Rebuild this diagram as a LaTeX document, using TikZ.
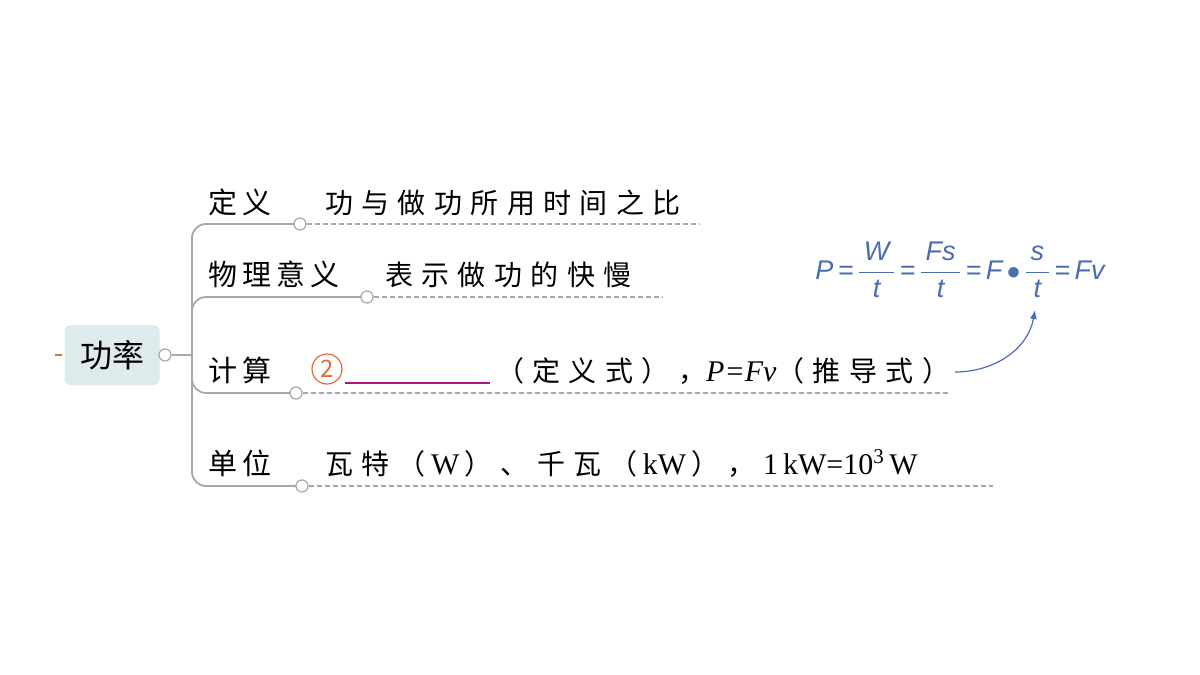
\documentclass[tikz,border=0pt]{standalone}
\usepackage{fix-cm}
\usepackage{amsmath}
\usepackage{fontspec}
\setmainfont{Noto Sans CJK SC}
\newfontfamily\lat{Liberation Serif}
\newfontfamily\fsans{Liberation Sans}
\usetikzlibrary{arrows.meta}
\definecolor{lgray}{HTML}{A8A8A8}
\definecolor{fblue}{HTML}{4A6DB0}
\definecolor{rootbg}{HTML}{DDEBEC}
\definecolor{orng}{HTML}{E06A3C}
\definecolor{mag}{HTML}{B0157A}
\newcommand{\fr}[2]{\dfrac{\,\text{#1}\,}{\,\text{#2}\,}}
\newcommand{\eq}{\text{\,=\,}}
\tikzset{
  lbl/.style={anchor=base west,inner sep=0pt,font=\fontsize{29}{30}\selectfont\addfontfeatures{LetterSpace=18}},
  txt/.style={anchor=base west,inner sep=0pt,font=\fontsize{28}{30}\selectfont\addfontfeatures{LetterSpace=30}},
  dot/.style={circle,draw=lgray,fill=white,line width=1.2pt,minimum size=12pt,inner sep=0pt},
  br/.style={draw=lgray,line width=1.8pt,rounded corners=14pt},
  dsh/.style={draw=lgray,line width=1.3pt,dash pattern=on 5pt off 3pt}
}
\begin{document}
\begin{tikzpicture}[x=1pt,y=-1pt]
\useasboundingbox (0,0) rectangle (1200,675);
\fill[white] (0,0) rectangle (1200,675);
% root
\draw[orng,line width=2pt] (55,355) -- (62,355);
\node[fill=rootbg,rounded corners=6pt,minimum width=95pt,minimum height=60pt,font=\fontsize{32}{34}\selectfont] (root) at (112,355) {功率};
\node[dot] (rc) at (165,355) {};
\draw[lgray,line width=1.8pt] (rc.east) -- (192,355);
% trunk and branches
\coordinate (t1) at (300,224);
\coordinate (t2) at (367,297);
\coordinate (t3) at (296,393);
\coordinate (t4) at (302,486);
\draw[br] (t1) -- (192,224) -- (192,486) -- (t4);
\draw[br] (192,320) |- (t2);
\draw[br] (192,370) |- (t3);
\node[dot] (d1) at (t1) {};
\node[dot] (d2) at (t2) {};
\node[dot] (d3) at (t3) {};
\node[dot] (d4) at (t4) {};
\coordinate (e1) at (700,224);
\coordinate (e2) at (662,297);
\coordinate (e3) at (950,393);
\coordinate (e4) at (993,486);
\draw[dsh] (d1.east) -- (e1);
\draw[dsh] (d2.east) -- (e2);
\draw[dsh] (d3.east) -- (e3);
\draw[dsh] (d4.east) -- (e4);
% labels
\node[lbl] (l1) at (208,213) {定义};
\node[lbl] (l2) at (208,285) {物理意义};
\node[lbl] (l3) at (208,381) {计算};
\node[lbl] (l4) at (208,474) {单位};
\node[txt] (c1) at (325,213) {功与做功所用时间之比};
\node[txt] (c2) at (385,285) {表示做功的快慢};
\node[circle,draw=orng,line width=1.2pt,minimum size=30pt,inner sep=0pt,text=orng,font=\fontsize{24}{24}\selectfont] (n2) at (327,369) {2};
\draw[mag,line width=1.8pt] (345,383) -- (490,383);
\node[txt] (c3) at (496,381) {（定义式），{\lat\itshape\fontsize{30}{30}\selectfont P=Fv}（推导式）};
\node[txt] (c4) at (325,474) {瓦特（{\lat\fontsize{30}{30}\selectfont\,W\,}）、千瓦（{\lat\fontsize{30}{30}\selectfont\,kW\,}），{\lat\fontsize{30}{30}\selectfont\ 1\,kW=10\textsuperscript{3}\,W}};
% formula
\node[text=fblue,font=\fsans\itshape\fontsize{27}{29}\selectfont,inner sep=0pt] (f) at (960,270)
 {$\text{P}\eq\fr{W}{t}\eq\fr{Fs}{t}\eq\text{F}\,{\bullet}\,\fr{s}{t}\eq\text{Fv}$};
\coordinate (ft) at (1035,310);
\draw[fblue,line width=1.2pt,-{Latex[length=9pt,width=7pt]}] (955,372) to[out=0,in=-100] (ft);
\end{tikzpicture}
\end{document}
